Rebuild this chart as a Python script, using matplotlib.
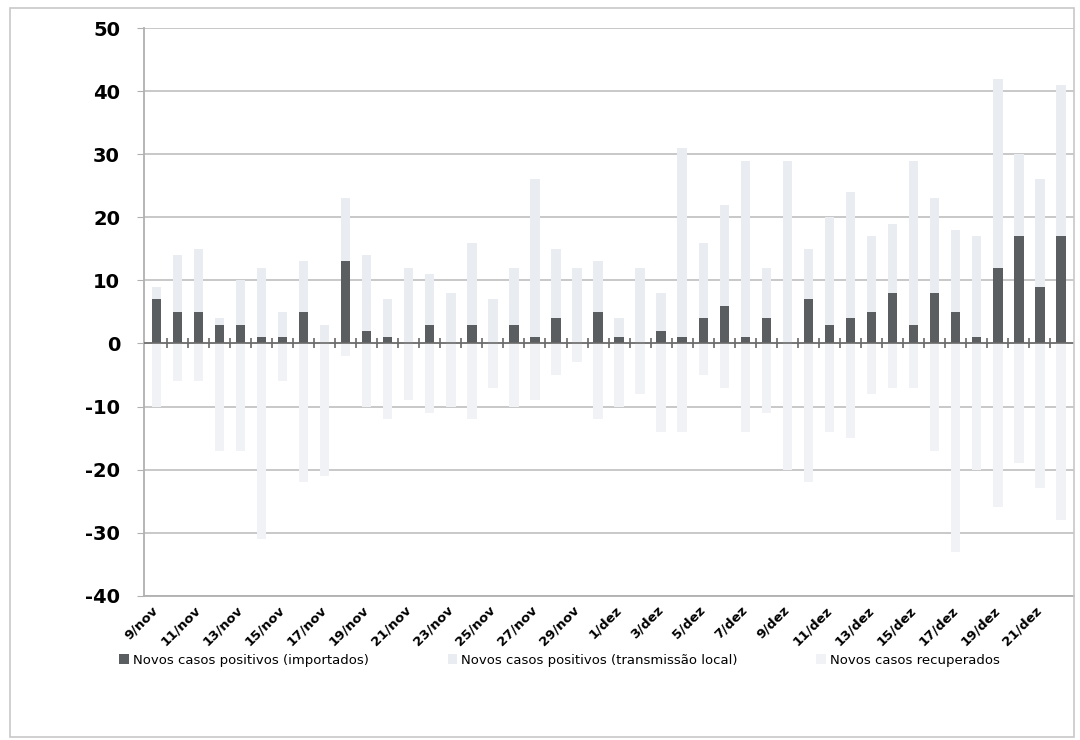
import numpy as np
from matplotlib import pyplot as plt
from matplotlib.patches import Rectangle

plt.rcParams["axes.unicode_minus"] = False

# dias de 9/nov a 22/dez
dias = [f"{d}/nov" for d in range(9, 31)] + [f"{d}/dez" for d in range(1, 23)]

importados = [7, 5, 5, 3, 3, 1, 1, 5, 0, 13, 2, 1, 0, 3, 0, 3, 0, 3, 1, 4, 0, 5,
              1, 0, 2, 1, 4, 6, 1, 4, 0, 7, 3, 4, 5, 8, 3, 8, 5, 1, 12, 17, 9, 17]
transmissao_local = [2, 9, 10, 1, 7, 11, 4, 8, 3, 10, 12, 6, 12, 8, 8, 13, 7, 9, 25, 11, 12, 8,
                     3, 12, 6, 30, 12, 16, 28, 8, 29, 8, 17, 20, 12, 11, 26, 15, 13, 16, 30, 13, 17, 24]
recuperados = [-10, -6, -6, -17, -17, -31, -6, -22, -21, -2, -10, -12, -9, -11, -10, -12, -7, -10, -9, -5, -3, -12,
               -10, -8, -14, -14, -5, -7, -14, -11, -20, -22, -14, -15, -8, -7, -7, -17, -33, -20, -26, -19, -23, -28]

nomes = ["Novos casos positivos (importados)",
         "Novos casos positivos (transmissão local)",
         "Novos casos recuperados"]

fig = plt.figure(figsize=(10.8, 7.4), dpi=100)
ax = fig.add_axes([0.133, 0.195, 0.861, 0.767])

x = np.arange(len(dias))
w = 0.45
b1 = ax.bar(x, importados, w, color="#5b5e60", zorder=3, label=nomes[0])
b2 = ax.bar(x, transmissao_local, w, bottom=importados, color="#e9edf2", zorder=3, label=nomes[1])
b3 = ax.bar(x, recuperados, w, color="#f0f2f5", zorder=3, label=nomes[2])

# eixo horizontal no zero com marcas entre categorias
ax.axhline(0, color="#6a6a6a", lw=1.2, zorder=4)
ax.plot(x[:-1] + 0.5, np.zeros(len(x) - 1), ls="none", marker="|", ms=7, mew=1.2, color="#6a6a6a", zorder=4)

ax.set_ylim(-40, 50)
ax.set_xlim(-0.6, len(dias) - 0.4)
ax.set_yticks(range(-40, 51, 10))
ax.yaxis.grid(True, color="#c4c4c4", lw=1.3)
ax.set_axisbelow(True)
for lbl in ax.get_yticklabels():
    lbl.set_fontweight("bold")
ax.tick_params(axis="y", labelsize=14, length=5, color="#b0b0b0", pad=12)

ax.set_xticks(x[::2])
ax.set_xticklabels(dias[::2], rotation=45, ha="right", va="center", rotation_mode="anchor",
                   fontsize=9.5, fontweight="bold")
ax.tick_params(axis="x", length=0, pad=9)

for s in ["top", "right"]:
    ax.spines[s].set_visible(False)
ax.spines["left"].set_color("#b0b0b0")
ax.spines["bottom"].set_color("#b0b0b0")
ax.spines["left"].set_linewidth(1.3)
ax.spines["bottom"].set_linewidth(1.3)

fig.legend(handles=[b1, b2, b3], labels=nomes, loc="center", bbox_to_anchor=(0.518, 0.108),
           ncol=3, frameon=False, fontsize=9.5, handlelength=0.7, handleheight=0.7,
           columnspacing=6.0, handletextpad=0.3)

fig.patches.append(Rectangle((0.009, 0.004), 0.985, 0.985, transform=fig.transFigure,
                             fill=False, edgecolor="#c8c8c8", lw=1.2))

fig.savefig("out.png", dpi=100)
